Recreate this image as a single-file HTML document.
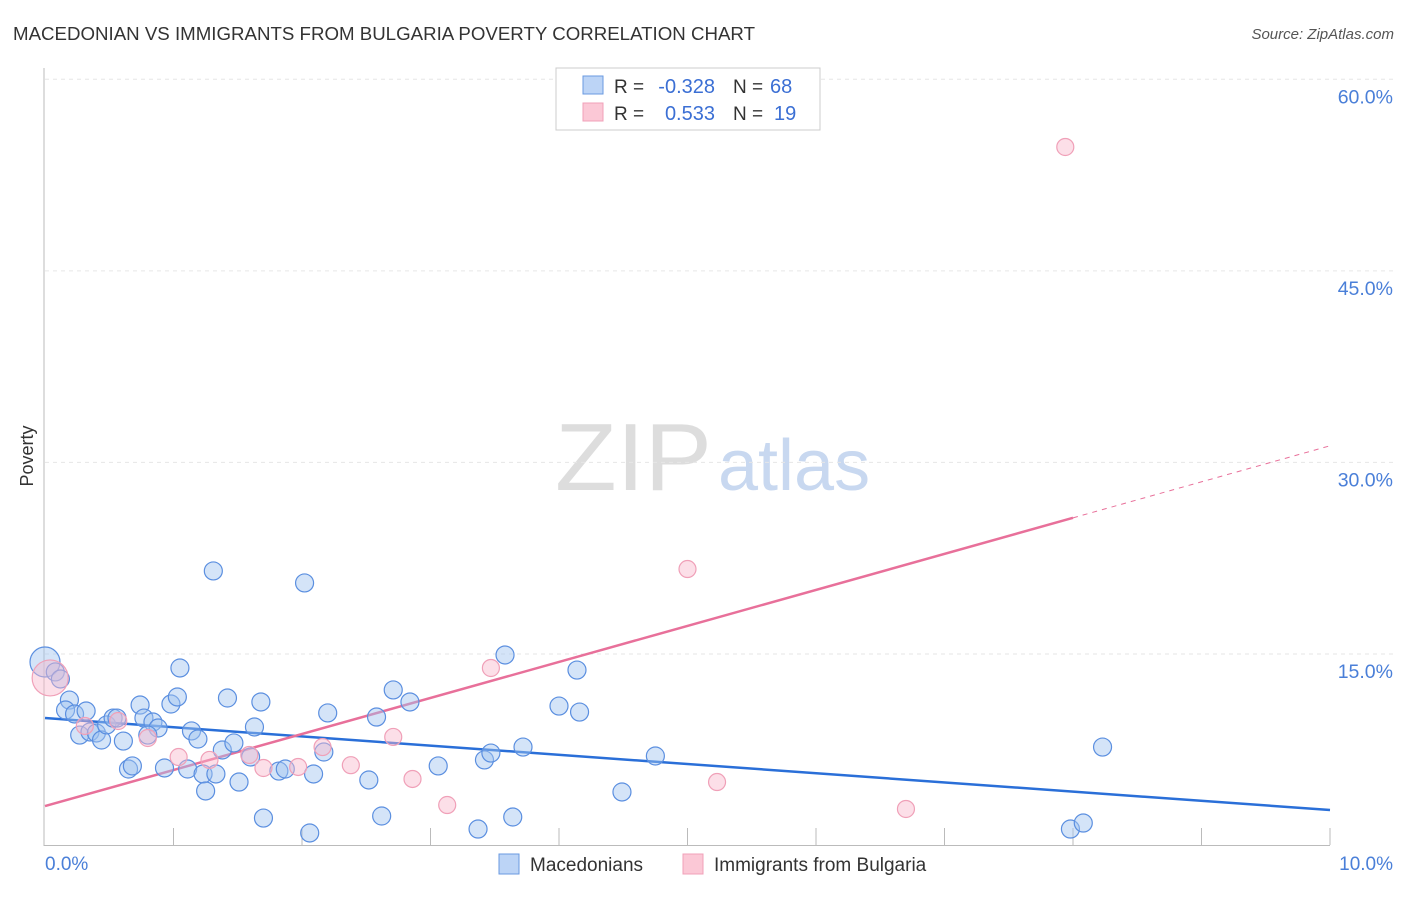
<!DOCTYPE html>
<html><head><meta charset="utf-8"><style>
body{margin:0;background:#fff;font-family:"Liberation Sans",sans-serif;}
svg text{font-family:"Liberation Sans",sans-serif;}
</style></head><body>
<svg id="chart" width="1406" height="892">
<text x="13" y="40" font-size="18" fill="#333" textLength="742" lengthAdjust="spacingAndGlyphs">MACEDONIAN VS IMMIGRANTS FROM BULGARIA POVERTY CORRELATION CHART</text>
<text x="1394" y="39" font-size="15" fill="#555" font-style="italic" text-anchor="end">Source: ZipAtlas.com</text>
<text x="555" y="490" font-size="96" fill="#ddd" textLength="157" lengthAdjust="spacingAndGlyphs" font-family="Liberation Serif">ZIP</text>
<text x="718" y="490" font-size="72" fill="#c8d8f0">atlas</text>
<text x="33" y="456" font-size="18" fill="#333" transform="rotate(-90 33 456)" text-anchor="middle">Poverty</text>
<g id="grid"></g><g id="axes"></g><g id="lines"></g><g id="pts"></g>
<g>
<rect x="556" y="68" width="264" height="62" fill="#fff" stroke="#ccc"/>
<rect x="583" y="76" width="20" height="18" fill="#bcd4f6" stroke="#6a9ae0"/>
<rect x="583" y="103" width="20" height="18" fill="#fbc8d6" stroke="#f0a0b8"/>
<text x="614" y="93" font-size="19" fill="#333">R =</text>
<text x="715" y="93" font-size="20" fill="#3b6fd4" text-anchor="end">-0.328</text>
<text x="733" y="93" font-size="19" fill="#333">N =</text>
<text x="770" y="93" font-size="20" fill="#3b6fd4">68</text>
<text x="614" y="120" font-size="19" fill="#333">R =</text>
<text x="715" y="120" font-size="20" fill="#3b6fd4" text-anchor="end">0.533</text>
<text x="733" y="120" font-size="19" fill="#333">N =</text>
<text x="774" y="120" font-size="20" fill="#3b6fd4">19</text>
</g>
<g>
<rect x="499" y="854" width="20" height="20" fill="#bcd4f6" stroke="#6a9ae0"/>
<text x="530" y="871" font-size="19" fill="#333">Macedonians</text>
<rect x="683" y="854" width="20" height="20" fill="#fbc8d6" stroke="#f0a0b8"/>
<text x="714" y="871" font-size="19" fill="#333">Immigrants from Bulgaria</text>
</g>
</svg>
<script>
const blueX=[0,.08,.12,.19,.16,.23,.32,.27,.35,.40,.44,.48,.53,.56,.61,.65,.68,.74,.77,.84,.88,.80,.93,.98,1.03,1.05,1.11,1.14,1.19,1.23,1.25,1.31,1.33,1.38,1.42,1.47,1.51,1.63,1.60,1.68,1.70,1.82,1.87,2.02,2.06,2.09,2.17,2.20,2.52,2.58,2.62,2.71,2.84,3.06,3.37,3.42,3.47,3.58,3.64,3.72,4.00,4.14,4.16,4.49,4.75,7.98,8.08,8.23];
const blueY=[14.37,13.59,13.04,11.39,10.61,10.30,10.53,8.65,8.89,8.81,8.26,9.44,9.98,9.98,8.18,5.99,6.23,11.0,9.98,9.67,9.20,8.65,6.07,11.08,11.63,13.9,5.99,8.97,8.34,5.60,4.27,21.5,5.60,7.48,11.55,8.03,4.97,9.28,6.93,11.24,2.15,5.83,5.99,20.56,0.98,5.60,7.32,10.38,5.13,10.06,2.31,12.18,11.24,6.23,1.29,6.70,7.24,14.92,2.23,7.71,10.92,13.74,10.45,4.19,7.01,1.29,1.76,7.71];
const pinkX=[.04,.31,.57,.80,1.04,1.28,1.59,1.70,1.97,2.16,2.38,2.71,2.86,3.13,3.47,5.00,5.23,6.70,7.94];
const pinkY=[13.12,9.36,9.75,8.42,6.93,6.70,7.09,6.07,6.15,7.71,6.29,8.50,5.21,3.17,13.90,21.65,4.97,2.86,54.7];
const yTicks=[15,30,45,60];
const blueTrend=[9.98,2.78];
const pinkTrend=[3.09,31.3];
const pinkSolidEnd=8;
const sx=v=>45+v*128.5, sy=v=>845.5-v*12.77;
const NS="http://www.w3.org/2000/svg";
function mk(t,a,p){const e=document.createElementNS(NS,t);for(const k in a)e.setAttribute(k,a[k]);p.appendChild(e);return e;}
const grid=document.getElementById('grid'),axes=document.getElementById('axes'),lines=document.getElementById('lines'),pts=document.getElementById('pts');
yTicks.forEach(v=>{
 const l=mk('line',{x1:45,x2:1393,y1:sy(v),y2:sy(v),stroke:'#e6e6e6','stroke-dasharray':'4,4'},grid);
 
 
 const t=mk('text',{x:1393,y:sy(v)+24,'font-size':19.5,fill:'#4a7fd8','text-anchor':'end'},grid);
 t.textContent=v.toFixed(1)+'%';
 
 
});
mk('line',{x1:44,x2:44,y1:68,y2:846,stroke:'#bbb'},axes);
mk('line',{x1:44,x2:1330,y1:845.5,y2:845.5,stroke:'#bbb'},axes);
for(let i=1;i<=10;i++){const l=mk('line',{x1:sx(i),x2:sx(i),y1:828,y2:845,stroke:'#bbb'},axes);
 
 }
const x0=mk('text',{x:45,y:870,'font-size':19,fill:'#4a7fd8'},axes);x0.textContent='0.0%';


const x1=mk('text',{x:1393,y:870,'font-size':19,fill:'#4a7fd8','text-anchor':'end'},axes);x1.textContent='10.0%';


const bl=mk('line',{x1:sx(0),y1:sy(blueTrend[0]),x2:sx(10),y2:sy(blueTrend[1]),stroke:'#2a6fd8','stroke-width':2.5},lines);


const pe=pinkTrend[0]+(pinkTrend[1]-pinkTrend[0])*pinkSolidEnd/10;
const pl=mk('line',{x1:sx(0),y1:sy(pinkTrend[0]),x2:sx(pinkSolidEnd),y2:sy(pe),stroke:'#e8709a','stroke-width':2.5},lines);


const pd=mk('line',{x1:sx(pinkSolidEnd),y1:sy(pe),x2:sx(10),y2:sy(pinkTrend[1]),stroke:'#e8709a','stroke-width':1,'stroke-dasharray':'5,5'},lines);


blueX.forEach((x,i)=>{const c=mk('circle',{cx:sx(x),cy:sy(blueY[i]),r:i==0?15:9,fill:'rgba(160,196,240,0.45)',stroke:'#5b8fe0','stroke-width':1.2},pts);
 
 });
pinkX.forEach((x,i)=>{const c=mk('circle',{cx:sx(x),cy:sy(pinkY[i]),r:i==0?18:8.5,fill:'rgba(248,184,204,0.45)',stroke:'#f0a0b8','stroke-width':1.2},pts);
 
 });
</script>
</body></html>
